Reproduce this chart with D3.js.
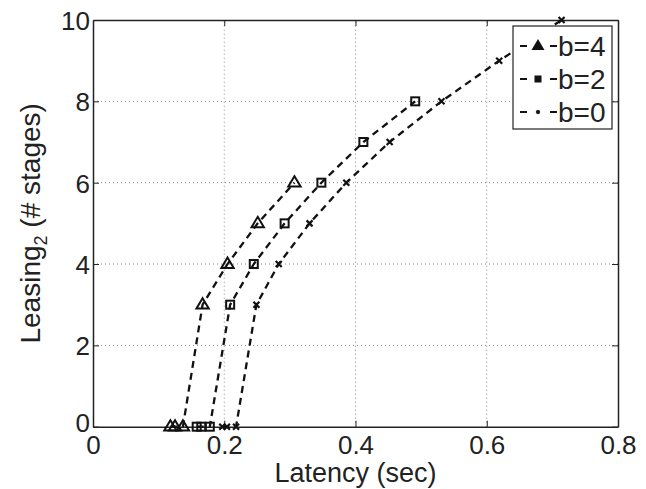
<!DOCTYPE html>
<html><head><meta charset="utf-8">
<script src="https://cdn.jsdelivr.net/npm/d3@7"></script>
<style>body{margin:0;background:#fff}svg{display:block}text{font-family:"Liberation Sans",Arial,Helvetica,sans-serif;fill:#222}</style>
</head><body>
<script>
const xTicks = [0, 0.2, 0.4, 0.6, 0.8];
const yTicks = [0, 2, 4, 6, 8, 10];
const seriesNames = ["b=4", "b=2", "b=0"];
const b4x = [0.118, 0.125, 0.137, 0.167, 0.205, 0.251, 0.307];
const b4y = [0, 0, 0, 3, 4, 5, 6];
const b2x = [0.158, 0.165, 0.178, 0.209, 0.245, 0.292, 0.348, 0.412, 0.491];
const b2y = [0, 0, 0, 3, 4, 5, 6, 7, 8];
const b0x = [0.197, 0.204, 0.218, 0.249, 0.283, 0.330, 0.386, 0.452, 0.531, 0.619, 0.714];
const b0y = [0, 0, 0, 3, 4, 5, 6, 7, 8, 9, 10];

const W = 646, H = 489;
const m = {l: 93, r: 28, t: 20, b: 62};
const svg = d3.select("body").append("svg").attr("width", W).attr("height", H);
const x = d3.scaleLinear().domain([0, 0.8]).range([m.l, W - m.r]);
const y = d3.scaleLinear().domain([0, 10]).range([H - m.b - 0.3, m.t]);

// grid
const g = svg.append("g");
g.selectAll(".gx").data(xTicks.slice(1, -1)).enter().append("line")
  .attr("x1", d => x(d)).attr("x2", d => x(d)).attr("y1", y(0)).attr("y2", y(10))
  .attr("stroke", "#888").attr("stroke-width", 1).attr("stroke-dasharray", "1,3");
g.selectAll(".gy").data(yTicks.slice(1, -1)).enter().append("line")
  .attr("x1", x(0)).attr("x2", x(0.8)).attr("y1", d => y(d)).attr("y2", d => y(d))
  .attr("stroke", "#888").attr("stroke-width", 1).attr("stroke-dasharray", "1,3");

// axes
const fmt = d => d === 0 ? "0" : d3.format("")(d);
const ax = svg.append("g").attr("transform", `translate(0,${y(0)})`)
  .call(d3.axisBottom(x).tickValues(xTicks).tickFormat(fmt).tickSizeInner(-6).tickSizeOuter(0).tickPadding(9));
const axT = svg.append("g").attr("transform", `translate(0,${y(10)})`)
  .call(d3.axisTop(x).tickValues(xTicks).tickFormat("").tickSizeInner(-6).tickSizeOuter(0));
const ay = svg.append("g").attr("transform", `translate(${x(0)},0)`)
  .call(d3.axisLeft(y).tickValues(yTicks).tickSizeInner(-6).tickSizeOuter(0).tickPadding(3));
const ayR = svg.append("g").attr("transform", `translate(${x(0.8)},0)`)
  .call(d3.axisRight(y).tickValues(yTicks).tickFormat("").tickSizeInner(-6).tickSizeOuter(0));
[ax, axT, ay, ayR].forEach(a => {
  a.select(".domain").attr("stroke", "#222").attr("stroke-width", 1.5);
  a.selectAll(".tick line").attr("stroke", "#222").attr("stroke-width", 1);
  a.selectAll("text").attr("font-size", 26).attr("fill", "#222")
    .style("font-family", '"Liberation Sans",Arial,sans-serif');
});
ax.selectAll("text").attr("dy", "0.72em");
ay.selectAll("text").attr("dy", d => d === 0 ? "0.2em" : "0.36em");

// labels
svg.append("text").attr("x", x(0.4)).attr("y", 482).attr("text-anchor", "middle")
  .attr("font-size", 27).text("Latency (sec)");
const yl = svg.append("text").attr("transform", `translate(40,${(y(0) + y(10)) / 2}) rotate(-90)`)
  .attr("text-anchor", "middle").attr("font-size", 28);
yl.append("tspan").text("Leasing");
yl.append("tspan").attr("font-size", 18).attr("dy", 7).text("2");
yl.append("tspan").attr("dy", -7).text(" (# stages)");

// series
const series = [
  {name: seriesNames[0], xs: b4x, ys: b4y, marker: "tri"},
  {name: seriesNames[1], xs: b2x, ys: b2y, marker: "sq"},
  {name: seriesNames[2], xs: b0x, ys: b0y, marker: "x"}
];
const line = d3.line().x(d => x(d[0])).y(d => y(d[1]));
function drawMarker(sel, type, cx, cy, s, fill) {
  if (type === "tri") {
    const r = s;
    sel.append("path").attr("d", `M${cx},${cy - r}L${cx + r * 0.95},${cy + r * 0.6}L${cx - r * 0.95},${cy + r * 0.6}Z`)
      .attr("fill", fill ? "#111" : "none").attr("stroke", "#111").attr("stroke-width", 2);
  } else if (type === "sq") {
    sel.append("rect").attr("x", cx - s).attr("y", cy - s).attr("width", 2 * s).attr("height", 2 * s)
      .attr("fill", fill ? "#111" : "none").attr("stroke", "#111").attr("stroke-width", 2);
  } else {
    sel.append("path").attr("d", `M${cx - s},${cy - s}L${cx + s},${cy + s}M${cx - s},${cy + s}L${cx + s},${cy - s}`)
      .attr("stroke", "#111").attr("stroke-width", 2.2);
  }
}
series.forEach(sr => {
  const pts = sr.xs.map((v, i) => [v, sr.ys[i]]);
  svg.append("path").attr("d", line(pts)).attr("fill", "none").attr("stroke", "#111")
    .attr("stroke-width", 2.3).attr("stroke-dasharray", "7,5");
  const mg = svg.append("g");
  pts.forEach(p => drawMarker(mg, sr.marker, x(p[0]), y(p[1]),
    sr.marker === "tri" ? 6.5 : sr.marker === "sq" ? 4 : 3, false));
});

// legend
const lg = svg.append("g");
lg.append("rect").attr("x", 513).attr("y", 26).attr("width", 99).attr("height", 103)
  .attr("fill", "#fff").attr("stroke", "#222").attr("stroke-width", 1.2);
series.forEach((sr, i) => {
  const cy = 46 + i * 33;
  lg.append("line").attr("x1", 520).attr("x2", 527).attr("y1", cy).attr("y2", cy)
    .attr("stroke", "#111").attr("stroke-width", 2);
  lg.append("line").attr("x1", 550).attr("x2", 557).attr("y1", cy).attr("y2", cy)
    .attr("stroke", "#111").attr("stroke-width", 2);
  drawMarker(lg, sr.marker, 538, cy, sr.marker === "tri" ? 5 : sr.marker === "sq" ? 2.5 : 1.5, true);
  lg.append("text").attr("x", 558).attr("y", cy).attr("dy", "0.36em").attr("font-size", 28).text(sr.name);
});
</script>
</body></html>
